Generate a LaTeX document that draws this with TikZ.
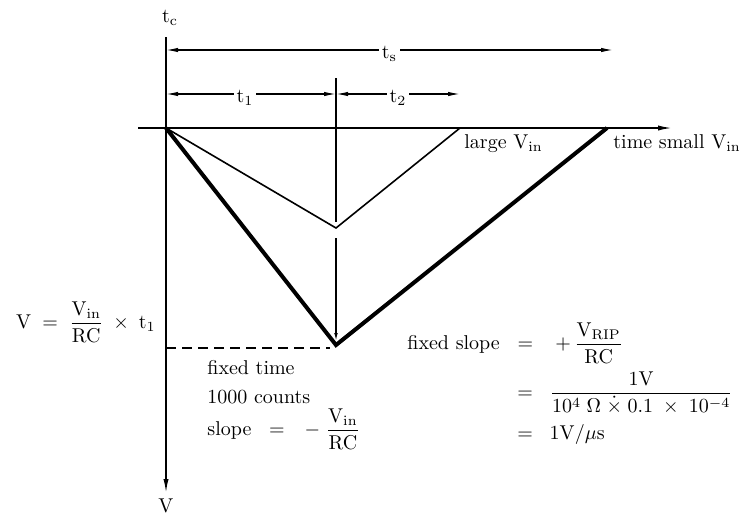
\documentclass[tikz,border=0pt]{standalone}
\usepackage{amsmath,amssymb}
\usepackage{tikz}
\usetikzlibrary{arrows.meta,positioning,calc}

\begin{document}
\begin{tikzpicture}[
  x=0.5pt, y=-0.5pt,
  axisline/.style={line width=0.8pt},
  axisarr/.style={axisline, -{Latex[length=7pt,width=2.6pt]}},
  dimarr/.style={line width=0.6pt,
                 {Latex[length=6pt,width=2.2pt]}-{Latex[length=6pt,width=2.2pt]}},
  ramp/.style={line width=0.8pt, line join=miter},
  rampbold/.style={line width=2pt, line join=miter},
  lbl/.style={inner sep=1pt},
  dimlbl/.style={fill=white, inner sep=1.5pt}
]
\useasboundingbox (0,0) rectangle (742,514);

%% Reference points
\coordinate (org)   at (166,128);
\coordinate (vtop)  at (166,37);
\coordinate (vbot)  at (166,493);
\coordinate (hleft) at (138,128);
\coordinate (hend)  at (672,128);
\coordinate (tsend) at (613,50);
\coordinate (tsbeg) at (166,50);
\coordinate (tabeg) at (166,94);
\coordinate (tamid) at (336,94);
\coordinate (tbend) at (460,94);
\coordinate (mtop)  at (336,78);
\coordinate (thinlo) at (336,228);
\coordinate (thinend) at (460,128);
\coordinate (boldlo) at (336,345);
\coordinate (boldend) at (607,128);

%% Axes
\draw[axisarr] (vtop) -- (vbot);
\draw[axisarr] (hleft) -- (hend);
\node[lbl] (tc) at (170,18) {$\mathrm{t_c}$};
\node[lbl] (vax) at (166,506) {$\mathrm{V}$};
\node[lbl, anchor=north west] (tax) at (611,132) {time small $\mathrm{V_{in}}$};

%% Time spans
\draw[dimarr] (tsbeg) -- node[dimlbl, yshift=-2pt] (ts) {$\mathrm{t_s}$} (tsend);
\draw[dimarr] (tabeg) -- node[dimlbl, xshift=-3pt, yshift=-2pt] (ta) {$\mathrm{t_1}$} (tamid);
\draw[dimarr] (tamid) -- node[dimlbl, yshift=-2pt] (tb) {$\mathrm{t_2}$} (tbend);

%% Marker at end of t1
\draw[line width=0.6pt] (mtop) -- ($(thinlo)+(0,-6)$);
\draw[line width=0.6pt, -{Latex[length=4pt,width=1.8pt]}] (336,238) -- ($(boldlo)+(0,-4)$);

%% Integrator ramps
\draw[ramp] (org) -- (thinlo) -- (thinend);
\draw[rampbold] (org) -- (boldlo) -- (boldend);
\node[lbl, anchor=north west] (large) at (462,132) {large $\mathrm{V_{in}}$};

%% Peak voltage
\draw[line width=0.8pt, dash pattern=on 5pt off 3pt] (166,348) -- (330,348);
\node[lbl, anchor=east] (vpk) at (158,322)
  {$\mathrm{V} \;=\; \dfrac{\mathrm{V_{in}}}{\mathrm{RC}} \;\times\; \mathrm{t_1}$};

%% Integrate phase
\node[lbl, anchor=west] (fixt) at (205,368) {fixed time};
\node[lbl, anchor=west] (cnts) at (205,397) {1000 counts};
\node[lbl, anchor=west] (slp) at (205,429)
  {slope $\;\;=\;\;\, -\;\dfrac{\mathrm{V_{in}}}{\mathrm{RC}}$};

%% De-integrate phase
\node[lbl, anchor=west] (fslp) at (405,343)
  {fixed slope $\;\;=\;\;\; +\,\dfrac{\mathrm{V_{RIP}}}{\mathrm{RC}}$};
\node[lbl, inner sep=0pt, anchor=west] (eqa) at (517,393)
  {$=\;\; \dfrac{1\mathrm{V}}{10^4\;\Omega\;\dot{\times}\;0.1\;\times\;10^{-4}}$};
\node[lbl, inner sep=0pt, anchor=west] (eqb) at (517,434) {$=\;\; 1\mathrm{V}/\mu\mathrm{s}$};

\end{tikzpicture}
\end{document}
